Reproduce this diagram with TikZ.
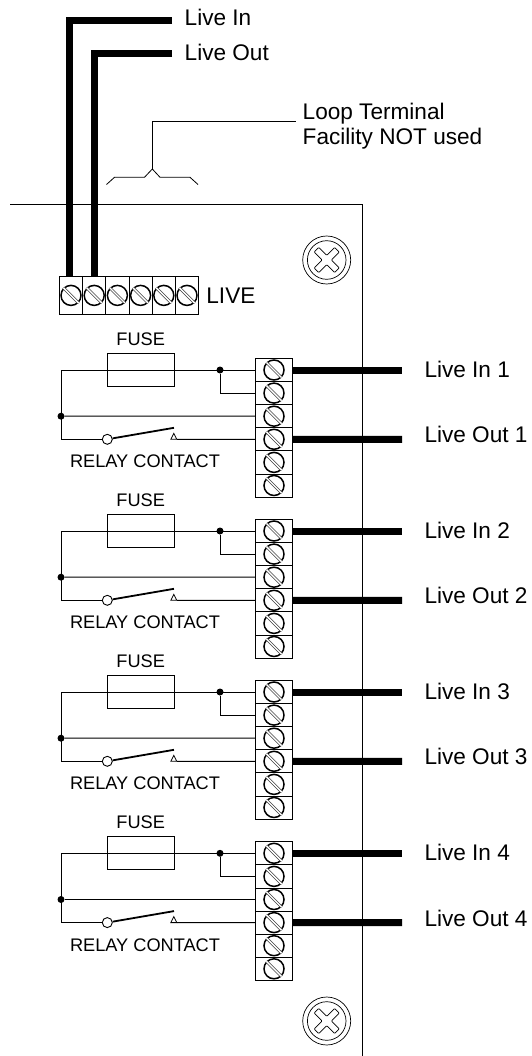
\documentclass[tikz,border=0pt]{standalone}
\usepackage{fontspec}
\setmainfont{Liberation Sans}
\usepackage{tikz}
\tikzset{
  wirethin/.style={line width=1pt},
  wirethick/.style={line width=7pt},
  cellbox/.style={draw,line width=.9pt,rectangle,inner sep=0pt,minimum width=#1},
  fusebox/.style={draw,line width=.9pt,rectangle,inner sep=0pt,minimum width=66.5pt,minimum height=33pt},
  screwhead/.style={draw,circle,line width=1.5pt,inner sep=0pt,minimum size=20pt},
  screwslot/.style={double,double distance=1.4pt,line width=.7pt,draw=black!75},
  jointdot/.style={fill,circle,inner sep=0pt,minimum size=7pt},
  pivotring/.style={draw,fill=white,circle,line width=.9pt,inner sep=0pt,minimum size=10pt},
  boltring/.style={draw,circle,line width=.7pt,inner sep=0pt,minimum size=#1},
  biglabel/.style={anchor=base west,inner sep=0pt,font=\fontsize{22.6}{26}\selectfont},
  smalllabel/.style={inner sep=0pt,font=\fontsize{18.2}{22}\selectfont}
}
\newcommand{\drawscrew}[1]{
  \node[screwhead] (#1) at (#1box) {};
  \draw[screwslot] (#1.135)--(#1.-45);
}
\newcommand{\drawbolt}[3]{
  \node[boltring=48pt] (#1) at (#2,#3) {};
  \node[boltring=38.6pt] at (#1) {};
  \draw[line width=.7pt,rounded corners=.8pt,rotate around={45:(#1)},shift={(#1)}]
    (-3.3,-3.3)--(-3.3,-14.5)--(3.3,-14.5)--(3.3,-3.3)--(14.5,-3.3)--(14.5,3.3)--(3.3,3.3)
    --(3.3,14.5)--(-3.3,14.5)--(-3.3,3.3)--(-14.5,3.3)--(-14.5,-3.3)--cycle;
}
% one block of six terminals with its fuse and relay contact
\newcommand{\drawrelay}[2]{
  \foreach \k in {0,...,5}{
    \node[cellbox=36.8pt,minimum height=23.1pt] (r#1c\k box) at (274,#2+23.1*\k) {};
    \drawscrew{r#1c\k}
  }
  \node[fusebox] (fuse#1) at (140.7,#2) {};
  \node[smalllabel] (fuselabel#1) at (140.7,#2-31) {FUSE};
  \node[smalllabel] (relaylabel#1) at (145,#2+91.5) {RELAY CONTACT};
  \node[jointdot] (tee#1) at (220,#2) {};
  \node[jointdot] (join#1) at (61,#2+46.2) {};
  \node[pivotring] (pivot#1) at (107.3,#2+69.3) {};
  \coordinate (corner#1a) at (61,#2);
  \coordinate (corner#1b) at (61,#2+69.3);
  \coordinate (blade#1) at (174,#2+57.8);
  \coordinate (tipl#1) at (170.8,#2+69.3);
  \coordinate (tipr#1) at (176.8,#2+69.3);
  \coordinate (tipt#1) at (173.8,#2+63.3);
  \coordinate (outa#1) at (402,#2);
  \coordinate (outb#1) at (402,#2+69.3);
  \draw[wirethin] (r#1c0box.west)--(corner#1a)--(corner#1b)--(pivot#1.west);
  \draw[wirethin] (tee#1)|-(r#1c1box.west);
  \draw[wirethin] (join#1)--(r#1c2box.west);
  \draw[wirethin] (tipr#1)--(r#1c3box.west);
  \draw[line width=.8pt] (tipl#1)--(tipt#1)--(tipr#1)--cycle;
  \draw[line width=1.8pt] (pivot#1.10)--(blade#1);
  \draw[wirethick] (r#1c0box.east)--(outa#1);
  \draw[wirethick] (r#1c3box.east)--(outb#1);
  \node[biglabel] (livein#1) at (424.3,#2+7) {Live In #1};
  \node[biglabel] (liveout#1) at (424.3,#2+72.9) {Live Out #1};
}
\begin{document}
\begin{tikzpicture}[x=1pt,y=-1pt]
\useasboundingbox (0,0) rectangle (531,1056);
    % panel edge
    \coordinate (panela) at (10,204.5);
    \coordinate (panelb) at (362.8,204.5);
    \coordinate (panelc) at (362.8,1056);
    \draw[line width=1pt] (panela)--(panelb)--(panelc);
    \drawbolt{bolta}{326.7}{260}
    \drawbolt{boltb}{326.7}{1021}
    % live terminal strip
    \foreach \k in {0,...,5}{
      \node[cellbox=23.2pt,minimum height=37.3pt] (s\k box) at (71+23.2*\k,295.4) {};
      \drawscrew{s\k}
    }
    \node[biglabel] (livelabel) at (206.2,303.3) {LIVE};
    \node[biglabel] (liveinlabel) at (184.5,26) {Live In};
    \node[biglabel] (liveoutlabel) at (184.5,61) {Live Out};
    \coordinate (ina) at (69.7,20.5);
    \coordinate (inb) at (172,20.5);
    \coordinate (outa) at (94,54);
    \coordinate (outb) at (172,54);
    \draw[wirethick] (inb)--(ina)--(ina|-s0box.north);
    \draw[wirethick] (outb)--(outa)--(outa|-s1box.north);
    % loop terminal bracket
    \node[biglabel] (looplabela) at (302.5,119.3) {Loop Terminal};
    \node[biglabel] (looplabelb) at (302.5,145) {Facility NOT used};
    \coordinate (looptop) at (295.5,121.5);
    \coordinate (loopbend) at (152.3,121.5);
    \coordinate (looptip) at (152.3,169);
    \draw[line width=.8pt] (looptop)--(loopbend)--(looptip);
    \draw[line width=.8pt] (106.5,184.5)--(114.5,177.3)--(144.5,177.3)--(looptip)--(160,177.3)--(190,177.3)--(198,184.5);
    \drawrelay{1}{370}
    \drawrelay{2}{531}
    \drawrelay{3}{692}
    \drawrelay{4}{853.3}
\end{tikzpicture}
\end{document}
